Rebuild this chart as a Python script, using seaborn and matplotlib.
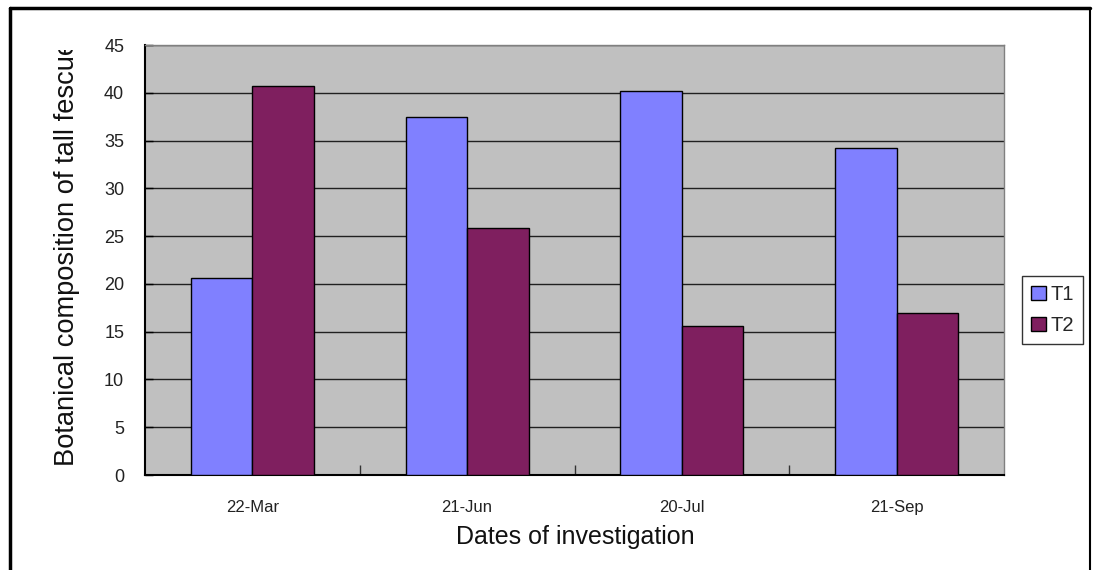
import matplotlib
matplotlib.use("Agg")
import matplotlib.pyplot as plt
from matplotlib.patches import Patch
from matplotlib.lines import Line2D
from matplotlib.transforms import Bbox
import seaborn as sns
import pandas as pd

dates = ["22-Mar", "21-Jun", "20-Jul", "21-Sep"]
t1_values = [20.6, 37.5, 40.2, 34.2]
t2_values = [40.7, 25.8, 15.6, 17.0]
series_names = ["T1", "T2"]
y_ticks = [0, 5, 10, 15, 20, 25, 30, 35, 40, 45]

df = pd.DataFrame({
    "date": dates * 2,
    "value": t1_values + t2_values,
    "treatment": [series_names[0]] * len(dates) + [series_names[1]] * len(dates),
})

sns.set_theme(style="white")
plt.rcParams["font.family"] = ["Liberation Sans", "DejaVu Sans"]

W, H = 1093, 570
fig = plt.figure(figsize=(W / 100, H / 100), dpi=100)
ax = fig.add_axes([145 / W, 1 - 475 / H, (1004 - 145) / W, (475 - 45) / H])
ax.set_facecolor("#C0C0C0")

palette = {"T1": "#8080FF", "T2": "#7F1F5F"}
sns.barplot(data=df, x="date", y="value", hue="treatment", order=dates,
            hue_order=series_names, palette=palette, width=0.573,
            edgecolor="black", linewidth=1.0, saturation=1, ax=ax,
            legend=False, zorder=3)

ax.set_ylim(0, 45)
ax.set_xlim(-0.5, len(dates) - 0.5)
ax.set_yticks(y_ticks)
ax.set_yticklabels([str(v) for v in y_ticks], fontsize=13, color="#222222")
ax.yaxis.grid(True, color="#202020", linewidth=1.0, zorder=1)
ax.set_axisbelow(True)
ax.tick_params(axis="y", direction="in", length=6, width=1, color="black",
               pad=15, left=True)
ax.tick_params(axis="x", which="major", length=0, pad=18, labelsize=12,
               labelcolor="#222222")
ax.set_xticks([i + 0.5 for i in range(len(dates) - 1)], minor=True)
ax.tick_params(axis="x", which="minor", direction="in", length=7, width=1,
               color="#333333", bottom=True)
ax.set_xlabel("")
ax.set_ylabel("")

for side in ["left", "bottom"]:
    ax.spines[side].set_color("black")
    ax.spines[side].set_linewidth(1.5)
for side in ["top", "right"]:
    ax.spines[side].set_color("#808080")
    ax.spines[side].set_linewidth(1.0)

fig.text(575 / W, 1 - 537 / H, "Dates of investigation", ha="center",
         va="center", fontsize=18, color="#111111")

ylab = fig.text(67 / W, 1 - 466 / H, "Botanical composition of tall fescue",
                rotation=90, ha="center", va="bottom", fontsize=19.6,
                color="#111111")
ylab.set_clip_box(Bbox.from_extents(0, 0, W, H - 50))
ylab.set_clip_on(True)

handles = [Patch(facecolor=palette[s], edgecolor="black", linewidth=1.0, label=s)
           for s in series_names]
leg = fig.legend(handles=handles, loc="upper left",
                 bbox_to_anchor=(1022 / W, 1 - 276 / H), fontsize=14.5,
                 frameon=True, fancybox=False, handlelength=0.75,
                 handleheight=0.75, handletextpad=0.2, borderpad=0.45,
                 labelspacing=0.6, borderaxespad=0)
leg.get_frame().set_edgecolor("black")
leg.get_frame().set_linewidth(1.0)

# outer frame around the chart
fig.add_artist(Line2D([9.5 / W, 9.5 / W], [0, 1 - 8 / H], transform=fig.transFigure,
                      color="black", linewidth=2.5))
fig.add_artist(Line2D([9.5 / W, 1090 / W], [1 - 8 / H, 1 - 8 / H],
                      transform=fig.transFigure, color="black", linewidth=2.5))
fig.add_artist(Line2D([1090 / W, 1090 / W], [0, 1 - 8 / H], transform=fig.transFigure,
                      color="black", linewidth=1.5))

fig.savefig("out.png", dpi=100, facecolor="white")
